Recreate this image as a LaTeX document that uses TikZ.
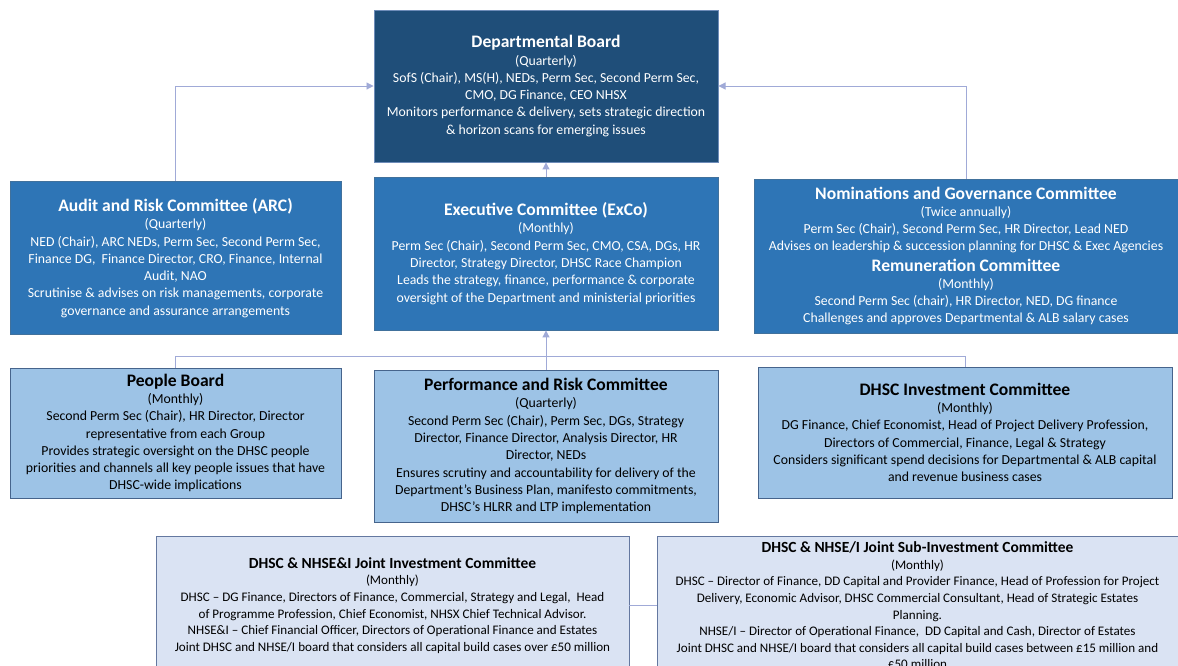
\documentclass[tikz,border=0pt]{standalone}
\usepackage{fontspec}
\setmainfont{Carlito}
\usepackage{tikz}
\usetikzlibrary{arrows.meta, positioning, calc}
\definecolor{boarddark}{RGB}{31,78,121}
\definecolor{boardedge}{RGB}{110,140,185}
\definecolor{commblue}{RGB}{46,117,182}
\definecolor{commedge}{RGB}{65,113,156}
\definecolor{subblue}{RGB}{157,195,230}
\definecolor{subedge}{RGB}{70,100,140}
\definecolor{jointpale}{RGB}{218,227,243}
\definecolor{jointedge}{RGB}{100,120,160}
\definecolor{linkcol}{RGB}{160,170,215}
\tikzset{
  topbox/.style={rectangle, draw=boardedge, fill=boarddark, text=white,
    align=center, inner sep=2pt, line width=0.6pt,
    font=\fontsize{9.8}{12.3}\selectfont},
  commbox/.style={rectangle, draw=commedge, fill=commblue, text=white,
    align=center, inner sep=2pt, line width=0.6pt,
    font=\fontsize{9.8}{12.3}\selectfont},
  subbox/.style={rectangle, draw=subedge, fill=subblue, text=black,
    align=center, inner sep=2pt, line width=0.6pt,
    font=\fontsize{9.8}{12.3}\selectfont},
  jointbox/.style={rectangle, draw=jointedge, fill=jointpale, text=black,
    align=center, inner sep=2pt, line width=0.6pt, anchor=north,
    font=\fontsize{9.3}{11.8}\selectfont},
  arrow/.style={-{Triangle[width=5pt,length=5pt]}, line width=0.7pt, color=linkcol},
  line/.style={line width=0.7pt, color=linkcol}
}

\begin{document}
\begin{tikzpicture}[x=0.025cm, y=-0.025cm]
  \useasboundingbox (0,0) rectangle (1178,665);

  % Departmental Board
  \node[topbox, minimum width=8.6cm, minimum height=3.8cm] (board) at (546,86)
    {{\fontsize{12.5}{17}\selectfont\bfseries Departmental Board}\\
     (Quarterly)\\
     SofS (Chair), MS(H), NEDs, Perm Sec, Second Perm Sec,\\
     CMO, DG Finance, CEO NHSX\\
     Monitors performance \& delivery, sets strategic direction\\
     \& horizon scans for emerging issues};

  % Committees reporting to the Board
  \node[commbox, minimum width=8.275cm, minimum height=3.825cm] (arc) at (175.5,258)
    {{\fontsize{12.5}{17}\selectfont\bfseries Audit and Risk Committee (ARC)}\\
     (Quarterly)\\
     NED (Chair), ARC NEDs, Perm Sec, Second Perm Sec,\\
     Finance DG,\ \ Finance Director, CRO, Finance, Internal\\
     Audit, NAO\\
     Scrutinise \& advises on risk managements, corporate\\
     governance and assurance arrangements};

  \node[commbox, minimum width=8.6cm, minimum height=3.825cm] (exco) at (546,253.5)
    {{\fontsize{12.5}{17}\selectfont\bfseries Executive Committee (ExCo)}\\
     (Monthly)\\
     Perm Sec (Chair), Second Perm Sec, CMO, CSA, DGs, HR\\
     Director, Strategy Director, DHSC Race Champion\\
     Leads the strategy, finance, performance \& corporate\\
     oversight of the Department and ministerial priorities};

  \node[commbox, minimum width=10.6cm, minimum height=3.85cm] (nomgov) at (966,256)
    {{\fontsize{12.5}{17}\selectfont\bfseries Nominations and Governance Committee}\\
     (Twice annually)\\
     Perm Sec (Chair), Second Perm Sec, HR Director, Lead NED\\
     Advises on leadership \& succession planning for DHSC \& Exec Agencies\\[2pt]
     {\fontsize{12.5}{17}\selectfont\bfseries Remuneration Committee}\\
     (Monthly)\\
     Second Perm Sec (chair), HR Director, NED, DG finance\\
     Challenges and approves Departmental \& ALB salary cases};

  % Committees reporting to ExCo
  \node[subbox, minimum width=8.275cm, minimum height=3.25cm] (people) at (175.5,433)
    {{\fontsize{12.5}{17}\selectfont\bfseries People Board}\\
     (Monthly)\\
     Second Perm Sec (Chair), HR Director, Director\\
     representative from each Group\\
     Provides strategic oversight on the DHSC people\\
     priorities and channels all key people issues that have\\
     DHSC-wide implications};

  \node[subbox, minimum width=8.6cm, minimum height=3.8cm] (perfrisk) at (546,446)
    {{\fontsize{12.5}{17}\selectfont\bfseries Performance and Risk Committee}\\
     (Quarterly)\\
     Second Perm Sec (Chair), Perm Sec, DGs, Strategy\\
     Director, Finance Director, Analysis Director, HR\\
     Director, NEDs\\
     Ensures scrutiny and accountability for delivery of the\\
     Department’s Business Plan, manifesto commitments,\\
     DHSC’s HLRR and LTP implementation};

  \node[subbox, minimum width=10.35cm, minimum height=3.275cm] (invest) at (965,432.5)
    {{\fontsize{12.5}{17}\selectfont\bfseries DHSC Investment Committee}\\
     (Monthly)\\
     DG Finance, Chief Economist, Head of Project Delivery Profession,\\
     Directors of Commercial, Finance, Legal \& Strategy\\
     Considers significant spend decisions for Departmental \& ALB capital\\
     and revenue business cases};

  % Joint investment committees
  \node[jointbox, minimum width=11.825cm, minimum height=3.45cm] (jointinv) at (392.5,536)
    {{\fontsize{11}{14}\selectfont\bfseries DHSC \& NHSE\&I Joint\ Investment Committee}\\
     (Monthly)\\
     DHSC – DG Finance, Directors of Finance, Commercial, Strategy and Legal,\ \ Head\\
     of Programme Profession, Chief Economist, NHSX Chief Technical Advisor.\\
     NHSE\&I – Chief Financial Officer, Directors of Operational Finance and Estates\\
     Joint DHSC and NHSE/I board that considers all capital build cases over £50 million};

  \node[jointbox, minimum width=13.025cm, minimum height=3.45cm] (subinv) at (917.5,536)
    {{\fontsize{11}{14}\selectfont\bfseries DHSC \& NHSE/I Joint Sub-Investment Committee}\\
     (Monthly)\\
     DHSC – Director of Finance, DD Capital and Provider Finance, Head of Profession for Project\\
     Delivery, Economic Advisor, DHSC Commercial Consultant, Head of Strategic Estates\\
     Planning.\\
     NHSE/I – Director of Operational Finance,\ \ DD Capital and Cash, Director of Estates\\
     Joint DHSC and NHSE/I board that considers all capital build cases between £15 million and\\
     £50 million};

  % Reporting lines
  \draw[arrow] (arc.north) |- (board.west);
  \draw[arrow] (nomgov.north) |- (board.east);
  \draw[arrow] (exco.north) -- (board.south);
  \draw[line] (people.north) -- ++(0,-11) -| (invest.north);
  \draw[arrow] (perfrisk.north) -- (exco.south);
  \draw[line] ($(invest.south)+(9,0)$) -- ($(invest.south)+(9,0)$ |- subinv.north);
  \draw[line] (jointinv.east) -- (jointinv.east -| subinv.west);
\end{tikzpicture}
\end{document}
